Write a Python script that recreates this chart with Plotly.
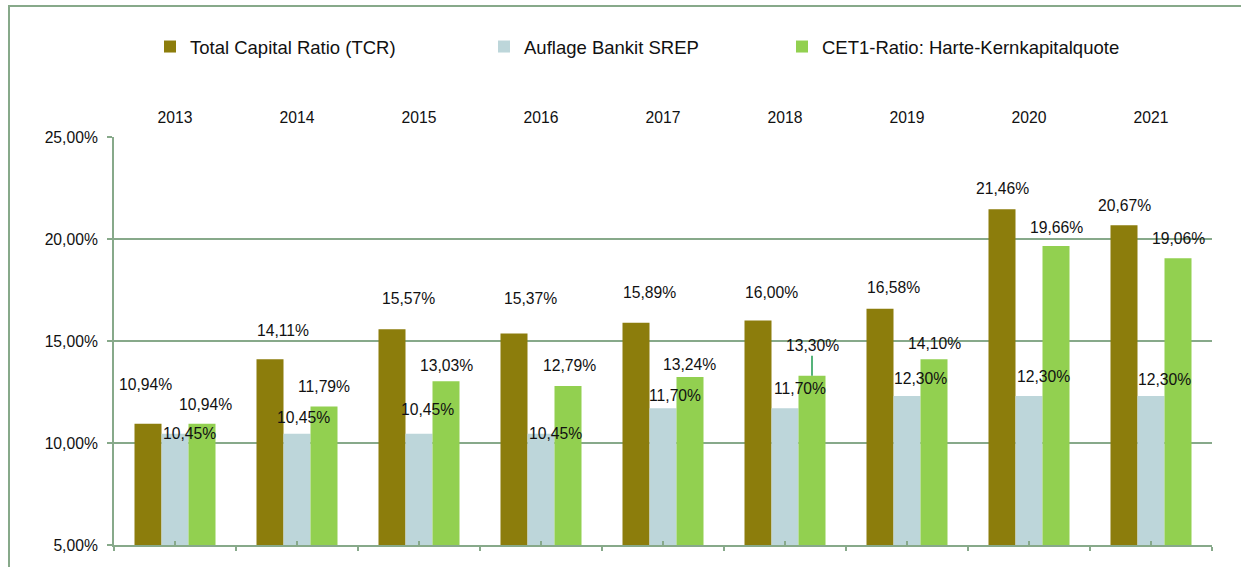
import plotly.graph_objects as go

# ---------------- data ----------------
years = ["2013", "2014", "2015", "2016", "2017", "2018", "2019", "2020", "2021"]
tcr = [10.94, 14.11, 15.57, 15.37, 15.89, 16.00, 16.58, 21.46, 20.67]
srep = [10.45, 10.45, 10.45, 10.45, 11.70, 11.70, 12.30, 12.30, 12.30]
cet1 = [10.94, 11.79, 13.03, 12.79, 13.24, 13.30, 14.10, 19.66, 19.06]
series_names = ["Total Capital Ratio (TCR)", "Auflage Bankit SREP", "CET1-Ratio: Harte-Kernkapitalquote"]
y_ticks = [5, 10, 15, 20, 25]


def pct(v):
    return f"{v:.2f}".replace(".", ",") + "%"


# ---------------- styles / layout ----------------
W, H = 1241, 567
ML, MR, MT, MB = 114, 29, 137, 22
colors = ["#8c7d0c", "#bdd6da", "#92d050"]
grid_col = "#87a98a"
FONT = "Liberation Sans, Arial, sans-serif"
BARGAP = 0.336

# manual label nudges (pixels) relative to each bar top, as in the original chart
lbl_dx = [
    [-3, 13, 16, 16, 13, 13, 13, 0, 0],
    [14, 6, 8, 14, 12, 15, 13, 14, 13],
    [3, 0, 0, 1, -1, 0, 0, 0, 0],
]
lbl_dy = [
    [39, 29, 31, 35, 30, 28, 21, 21, 20],
    [0, 16, 24, 0, 13, 20, 18, 20, 17],
    [19, 20, 16, 21, 12, 30, 16, 18, 20],
]
leader_label = (2, 5)  # series index, category index with leader line

xs = list(range(len(years)))
fig = go.Figure()
all_series = [tcr, srep, cet1]
legend_ids = ["legend", "legend2", "legend3"]
for k, (name, vals) in enumerate(zip(series_names, all_series)):
    fig.add_trace(go.Bar(
        x=xs, y=vals, name=name, marker_color=colors[k],
        marker_line_width=0, legend=legend_ids[k], hoverinfo="skip",
    ))

# dummy trace for the top category axis
fig.add_trace(go.Scatter(x=[xs[0]], y=[None], xaxis="x2", showlegend=False,
                         mode="markers", hoverinfo="skip"))

bw = (1 - BARGAP) / 3
annotations = []
for k, vals in enumerate(all_series):
    for i, v in enumerate(vals):
        txt = pct(v)
        xc = i + (k - 1) * bw
        if (k, i) == leader_label:
            annotations.append(dict(
                x=xc, y=v, xref="x", yref="y", text=txt, showarrow=True,
                ax=lbl_dx[k][i], ay=-lbl_dy[k][i], arrowhead=0, arrowwidth=1.5,
                arrowcolor="#1e9b4f", standoff=0,
                font=dict(family=FONT, size=15.7, color="#111111"),
            ))
        else:
            annotations.append(dict(
                x=xc, y=v, xref="x", yref="y", text=txt, showarrow=False,
                xshift=lbl_dx[k][i], yshift=lbl_dy[k][i], yanchor="middle",
                xanchor="center",
                font=dict(family=FONT, size=15.7, color="#111111"),
            ))

pw = W - ML - MR
ph = H - MT - MB
# outer chart frame (left and top edges visible in the crop)
shapes = [dict(
    type="rect", xref="paper", yref="paper",
    x0=(9 - ML) / pw, x1=(W + 20 - ML) / pw,
    y0=-(MB + 20) / ph, y1=(H - MB - 6) / ph,
    line=dict(color=grid_col, width=2), fillcolor="rgba(0,0,0,0)", layer="below",
)]

legend_common = dict(orientation="h", xref="container", yref="container",
                     xanchor="left", yanchor="middle", y=1 - 47 / H,
                     font=dict(family=FONT, size=18.5, color="#111111"),
                     bgcolor="rgba(0,0,0,0)", borderwidth=0, itemwidth=30)
legend_x = [150, 484, 782]

fig.update_layout(
    width=W, height=H,
    margin=dict(l=ML, r=MR, t=MT, b=MB, autoexpand=False),
    paper_bgcolor="white", plot_bgcolor="white",
    barmode="group", bargap=BARGAP, bargroupgap=0,
    separators=", ",
    font=dict(family=FONT, size=15.7, color="#111111"),
    annotations=annotations, shapes=shapes,
    legend=dict(legend_common, x=legend_x[0] / W),
    legend2=dict(legend_common, x=legend_x[1] / W),
    legend3=dict(legend_common, x=legend_x[2] / W),
    xaxis=dict(
        range=[-0.5, len(years) - 0.5], tickmode="array",
        tickvals=[i - 0.5 for i in range(len(years) + 1)], ticktext=[""] * (len(years) + 1),
        showticklabels=False, ticks="outside", ticklen=4, tickwidth=2, tickcolor=grid_col,
        showline=True, linecolor=grid_col, linewidth=2, showgrid=False, zeroline=False,
        minor=dict(ticks="inside", ticklen=4, tickwidth=2, tickcolor=grid_col,
                   tick0=0, dtick=1, showgrid=False),
        fixedrange=True, automargin=False,
    ),
    xaxis2=dict(
        overlaying="x", side="top", anchor="y", matches="x",
        range=[-0.5, len(years) - 0.5], tickmode="array", tickvals=xs, ticktext=years,
        ticks="", showline=False, showgrid=False, zeroline=False, automargin=False,
        ticklabelstandoff=10, tickfont=dict(family=FONT, size=15.7, color="#111111"),
    ),
    yaxis=dict(
        range=[y_ticks[0], y_ticks[-1]], tickmode="array", tickvals=y_ticks,
        ticktext=[pct(v) for v in y_ticks],
        showgrid=True, gridcolor=grid_col, gridwidth=2,
        showline=True, linecolor=grid_col, linewidth=2, ticks="outside", ticklen=5,
        tickwidth=2, tickcolor=grid_col, zeroline=False, ticklabelstandoff=6,
        tickfont=dict(family=FONT, size=15.7, color="#111111"), fixedrange=True,
        automargin=False,
    ),
)

fig.write_html(
    "out.html",
    config={"displayModeBar": False},
    post_script="document.body.style.margin='0px';document.body.style.overflow='hidden';",
)
